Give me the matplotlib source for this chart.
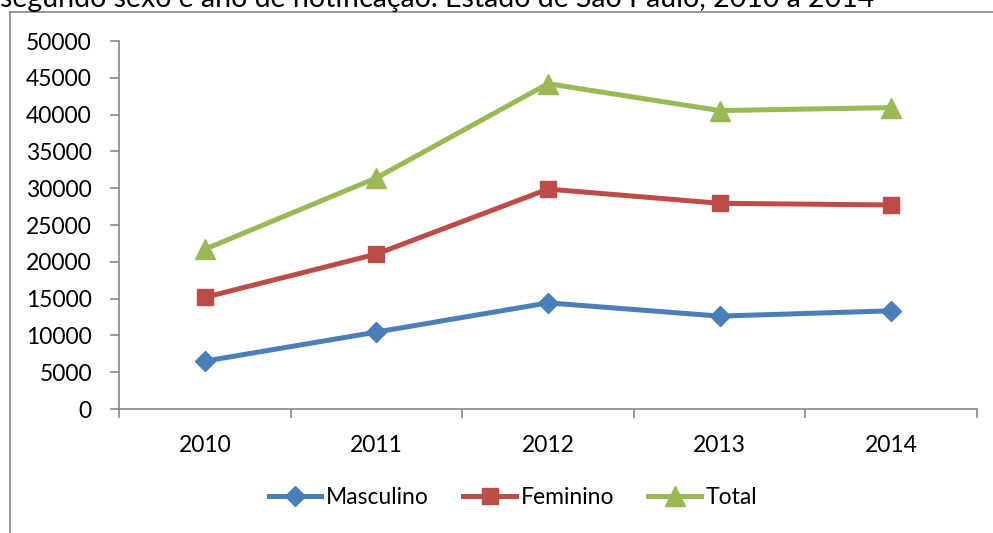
import matplotlib
matplotlib.use("Agg")
from matplotlib import pyplot as plt
from matplotlib.lines import Line2D

anos = ['2010', '2011', '2012', '2013', '2014']
masculino = [6500, 10450, 14420, 12620, 13340]
feminino = [15170, 21050, 29880, 27950, 27720]
total = [21700, 31400, 44200, 40550, 40950]
yticks = [0, 5000, 10000, 15000, 20000, 25000, 30000, 35000, 40000, 45000, 50000]

plt.rcParams['font.family'] = ['Lato', 'DejaVu Sans']
cinza = '#868686'
fs = 16.5

fig = plt.figure(figsize=(9.93, 5.33), dpi=100)
ax = fig.add_axes([119/993, 1 - 409/533, (977 - 119)/993, (409 - 41)/533])

x = list(range(len(anos)))
ax.plot(x, masculino, color='#4A7EBB', lw=3.6, marker='D', ms=10, label='Masculino')
ax.plot(x, feminino, color='#BE4B48', lw=3.6, marker='s', ms=12, label='Feminino')
ax.plot(x, total, color='#98B954', lw=3.6, marker='^', ms=14, label='Total')

ax.set_xlim(-0.5, len(anos) - 0.5)
ax.set_ylim(0, 50000)
ax.set_yticks(yticks)
ax.set_yticklabels([str(v) for v in yticks], fontsize=fs)
ax.set_xticks([i - 0.5 for i in range(len(anos) + 1)])
ax.set_xticklabels([])
ax.set_xticks(x, minor=True)
ax.set_xticklabels(anos, minor=True, fontsize=fs)
ax.tick_params(axis='x', which='minor', length=0, pad=19)
ax.tick_params(axis='x', which='major', length=6.5, color=cinza, width=1.2)
ax.tick_params(axis='y', length=6.5, color=cinza, width=1.2, pad=13)
for lado in ['top', 'right']:
    ax.spines[lado].set_visible(False)
for lado in ['left', 'bottom']:
    ax.spines[lado].set_color(cinza)
    ax.spines[lado].set_linewidth(1.2)

leg = fig.legend(loc='center', bbox_to_anchor=(513/993, 1 - 498/533), ncol=3,
                 frameon=False, fontsize=fs, handlelength=2.3, handletextpad=0.2,
                 columnspacing=1.5)

# moldura do grafico (cortada na imagem)
fig.add_artist(Line2D([10/993, 1], [1 - 12/533, 1 - 12/533], color=cinza, lw=1.2))
fig.add_artist(Line2D([10/993, 10/993], [0, 1 - 12/533], color=cinza, lw=1.2))

fig.text(0, 1 - 7/533, 'segundo sexo e ano de notificação. Estado de São Paulo, 2010 a 2014',
         fontsize=20.5, va='baseline', ha='left')

fig.savefig('out.png', dpi=100)
